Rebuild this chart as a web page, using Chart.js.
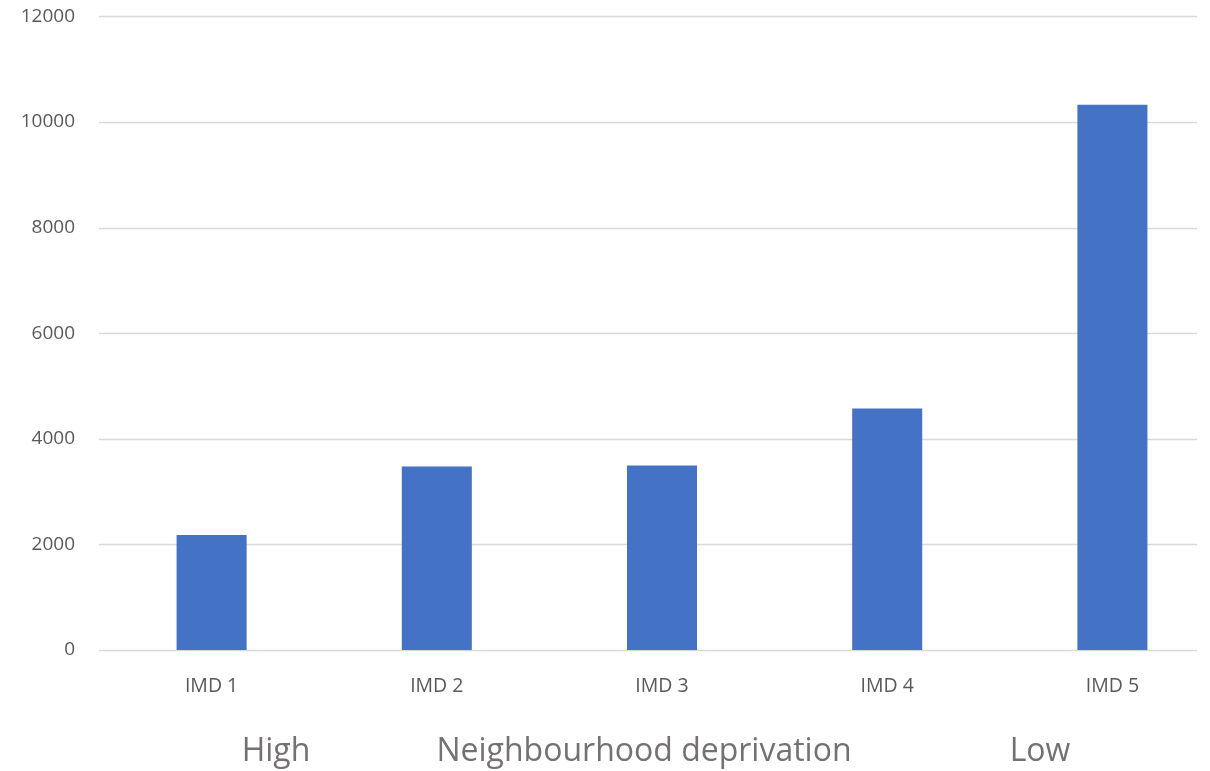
<!DOCTYPE html>
<html>
<head>
<meta charset="utf-8">
<script src="https://cdn.jsdelivr.net/npm/chart.js@4.4.0/dist/chart.umd.min.js"></script>
<style>
  html, body { margin: 0; padding: 0; background: #fff; overflow: hidden; }
  #wrap { width: 1210px; height: 771px; overflow: hidden; position: relative; }
  #inner { width: 1225px; height: 790px; position: absolute; left: 0; top: -19px; }
</style>
</head>
<body>
<div id="wrap"><div id="inner"><canvas id="chartImd"></canvas></div></div>
<script>
// datos
const categorias = ['IMD 1', 'IMD 2', 'IMD 3', 'IMD 4', 'IMD 5'];
const valores = [2180, 3477, 3496, 4575, 10328];
const ticksY = [0, 2000, 4000, 6000, 8000, 10000, 12000];
const etiquetasInferiores = ['High', 'Neighbourhood deprivation', 'Low'];

const fuente = '"Open Sans", "Liberation Sans", sans-serif';

// lineas de la grilla horizontal (terminan antes del borde, como en el original)
const grillaPlugin = {
    id: 'grillaPlugin',
    beforeDatasetsDraw(chart) {
        const ctx = chart.ctx;
        const y = chart.scales.y;
        ctx.save();
        ctx.strokeStyle = '#d9d9d9';
        ctx.lineWidth = 1.5;
        ticksY.forEach(v => {
            const py = Math.round(y.getPixelForValue(v)) + 0.5;
            ctx.beginPath();
            ctx.moveTo(chart.chartArea.left, py);
            ctx.lineTo(1197, py);
            ctx.stroke();
        });
        ctx.restore();
    }
};

// textos grandes debajo del eje x
const etiquetasPlugin = {
    id: 'etiquetasPlugin',
    afterDraw(chart) {
        const ctx = chart.ctx;
        const posX = [276, 644, 1040];
        ctx.save();
        ctx.font = '32px ' + fuente;
        ctx.fillStyle = '#767171';
        ctx.textAlign = 'center';
        ctx.textBaseline = 'middle';
        etiquetasInferiores.forEach((txt, i) => ctx.fillText(txt, posX[i], 771));
        ctx.restore();
    }
};

const ctx = document.getElementById('chartImd').getContext('2d');
new Chart(ctx, {
    type: 'bar',
    data: {
        labels: categorias,
        datasets: [{
            data: valores,
            backgroundColor: '#4472C4',
            categoryPercentage: 1,
            barPercentage: 0.311
        }]
    },
    options: {
        responsive: true,
        maintainAspectRatio: false,
        animation: false,
        layout: { padding: { top: -11, right: 0, bottom: 0, left: 0 } },
        plugins: {
            legend: { display: false },
            tooltip: { enabled: false }
        },
        scales: {
            y: {
                min: 0,
                max: 12000,
                afterBuildTicks: (scale) => { scale.ticks = ticksY.map(v => ({ value: v })); },
                afterFit: (scale) => { scale.width = 99; },
                border: { display: false },
                grid: { display: false, drawTicks: false },
                ticks: {
                    padding: 24,
                    color: '#595959',
                    font: { family: fuente, size: 19 },
                    callback: (v) => String(v)
                }
            },
            x: {
                afterFit: (scale) => { scale.height = 121; },
                border: { display: false },
                grid: { display: false },
                ticks: {
                    padding: 17,
                    color: '#595959',
                    font: { family: fuente, size: 19.5 }
                }
            }
        }
    },
    plugins: [grillaPlugin, etiquetasPlugin]
});
</script>
</body>
</html>
